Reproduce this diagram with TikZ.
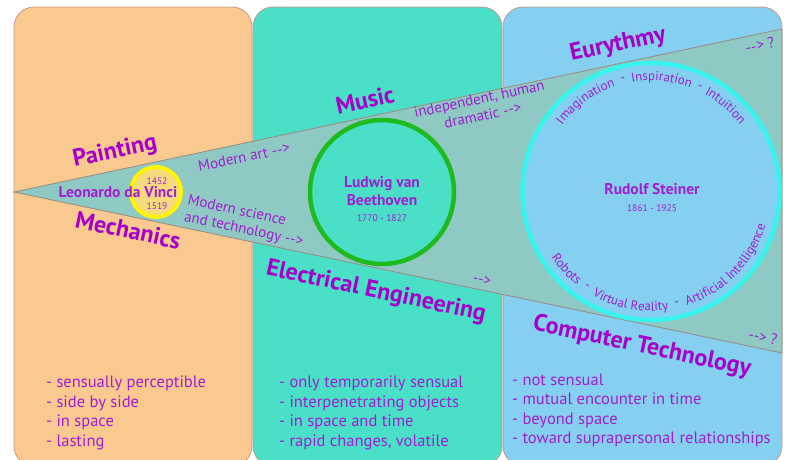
\documentclass[tikz,border=0pt]{standalone}
\usepackage{fontspec}
\setmainfont{PT Sans}[Ligatures=TeXOff]
\usetikzlibrary{decorations.text}
\definecolor{ptext}{HTML}{A21ED2}
\definecolor{plabel}{HTML}{A600CA}
\definecolor{orangep}{HTML}{F9C98F}
\definecolor{tealp}{HTML}{4ADFC7}
\definecolor{bluep}{HTML}{85CFF0}
\definecolor{wedgef}{HTML}{8EC9C3}
\definecolor{wedgel}{HTML}{9C8A82}
\definecolor{panelline}{HTML}{C89A88}
\definecolor{greenring}{HTML}{1EBA1E}
\definecolor{yellowring}{HTML}{FFF500}
\definecolor{yellowfill}{HTML}{F4DC7E}
\definecolor{cyanring}{HTML}{38F4EE}
\begin{document}
\begin{tikzpicture}[x=1pt,y=-1pt,
  panel/.style={draw=panelline, line width=0.8pt, rounded corners=20pt},
  biglabel/.style={font=\fontsize{24}{24}\selectfont\bfseries, text=plabel, inner sep=0pt},
  person/.style={font=\fontsize{15.5}{17.5}\selectfont\bfseries, text=ptext, inner sep=0pt, align=center},
  years/.style={font=\fontsize{9.5}{12}\selectfont, text=ptext, inner sep=0pt},
  flow/.style={font=\fontsize{15}{17}\selectfont, text=ptext, inner sep=0pt},
  listtext/.style={font=\fontsize{16.5}{19.5}\selectfont, text=ptext, align=left, anchor=west, inner sep=0pt},
  ring/.style={circle, inner sep=0pt},
  arcdash/.style={font=\fontsize{13}{14}\selectfont, text=ptext, inner sep=0pt},
  arcword/.style={decorate, decoration={text along path, text align=center,
     text={|\fontsize{13}{14}\selectfont\color{ptext}|#1}}},
]
\useasboundingbox (0,0) rectangle (790,459);
\fill[white] (0,0) rectangle (790,459);
% panels
\draw[panel, fill=orangep] (14,7) rectangle (252,466);
\draw[panel, fill=tealp] (253,7) rectangle (502,466);
\draw[panel, fill=bluep] (503,7) rectangle (782,466);
% wedge
\coordinate (apex) at (14,192);
\coordinate (tr) at (782,29);
\coordinate (br) at (782,353);
\draw[fill=wedgef, draw=wedgel, line width=0.8pt, line join=miter] (apex) -- (tr) -- (br) -- cycle;
% circles
\node[ring, minimum size=50, draw=yellowring, fill=yellowfill, line width=4pt] (leoc) at (156,192) {};
\node[ring, minimum size=144, draw=greenring, fill=tealp, line width=4.5pt] (beec) at (382,192) {};
\node[ring, minimum size=257, draw=cyanring, fill=bluep, line width=4.5pt] (stec) at (651,191.5) {};
% big labels
\node[biglabel, rotate=12] (painting) at (115,152) {Painting};
\node[biglabel, rotate=-12] (mechanics) at (128,230) {Mechanics};
\node[biglabel, rotate=12] (music) at (365,100) {Music};
\node[biglabel, rotate=-12] (eleng) at (376,292) {Electrical Engineering};
\node[biglabel, rotate=12] (euryth) at (618,45) {Eurythmy};
\node[biglabel, rotate=-12] (comptech) at (642,347) {Computer Technology};
% persons
\node[person] (leo) at (118,192) {Leonardo da Vinci};
\node[years] (leoy1) at (157,181) {1452};
\node[years] (leoy2) at (157,206) {1519};
\node[person] (bee) at (382,191) {Ludwig van\\Beethoven};
\node[years] (beey) at (382,218) {1770 - 1827};
\node[person] (ste) at (652,189) {Rudolf Steiner};
\node[years] (stey) at (652,208) {1861 - 1925};
% flow texts
\node[flow, rotate=12] (modart) at (244,157) {Modern art -->};
\node[flow, rotate=-12, anchor=west, align=left] (modsci) at (186,209) {Modern science\\and technology -->};
\node[flow, rotate=12, align=center] (indep) at (481,107) {independent, human\\dramatic -->\hspace{10pt}};
\node[flow, rotate=-12] (arrmid) at (482,280) {-->};
\node[flow, rotate=12] (qtop) at (760,45) {--> ?};
\node[flow, rotate=-12] (qbot) at (763,337) {--> ?};
% arc texts top
\path[arcword=Imagination] ([shift={(-153:111)}]stec.center) arc[start angle=-153, end angle=-99, radius=111];
\path[arcword=Inspiration] ([shift={(-112:111)}]stec.center) arc[start angle=-112, end angle=-57, radius=111];
\path[arcword=Intuition] ([shift={(-76:111)}]stec.center) arc[start angle=-76, end angle=-22, radius=111];
\node[arcdash, rotate=14] (dash1) at ([shift={(-104:115)}]stec.center) {-};
\node[arcdash, rotate=-25] (dash2) at ([shift={(-65:115)}]stec.center) {-};
% arc texts bottom
\path[arcword=Robots] ([shift={(-200:119.5)}]stec.center) arc[start angle=-200, end angle=-245, radius=119.5];
\path[arcword=Virtual Reality] ([shift={(-226:119.5)}]stec.center) arc[start angle=-226, end angle=-293, radius=119.5];
\path[arcword=Artificial Intelligence] ([shift={(-279:119.5)}]stec.center) arc[start angle=-279, end angle=-352, radius=119.5];
\node[arcdash, rotate=-34] (dash3) at ([shift={(-236:115)}]stec.center) {-};
\node[arcdash, rotate=13] (dash4) at ([shift={(-283:115)}]stec.center) {-};
% lists
\node[listtext] (list1) at (46,413) {- sensually perceptible\\- side by side\\- in space\\- lasting};
\node[listtext] (list2) at (279,413) {- only temporarily sensual\\- interpenetrating objects\\- in space and time\\- rapid changes, volatile};
\node[listtext] (list3) at (512,410.5) {- not sensual\\- mutual encounter in time\\- beyond space\\- toward suprapersonal relationships};
\end{tikzpicture}
\end{document}
